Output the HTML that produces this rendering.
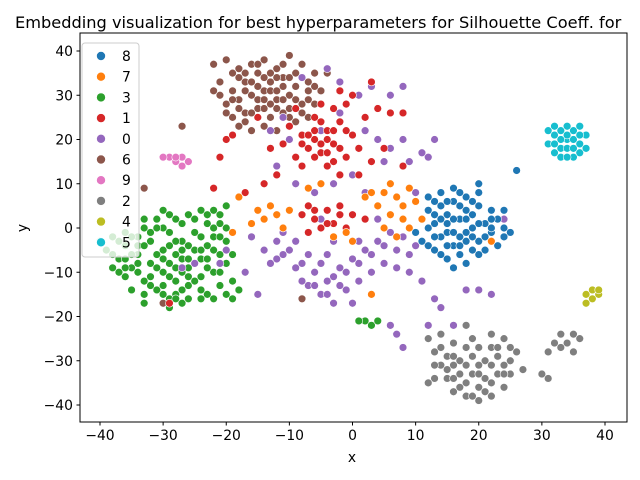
<!DOCTYPE html>
<html><head><meta charset="utf-8"><style>
body{margin:0;background:#fff;}
svg{display:block;font-family:"DejaVu Sans","Liberation Sans",sans-serif;}
</style></head><body>
<svg id="chart" width="640" height="480" xmlns="http://www.w3.org/2000/svg">
<text x="15" y="28" font-size="16.2" fill="#000">Embedding visualization for best hyperparameters for Silhouette Coeff. for</text>
<g id="plot"></g>
<rect x="80" y="33" width="547" height="389" fill="none" stroke="#000" stroke-width="1"/>
<g id="axes"></g>
<text x="352" y="462" font-size="13.9" text-anchor="middle">x</text>
<text x="27" y="228" font-size="13.9" text-anchor="middle" transform="rotate(-90 27 228)">y</text>
<g id="legend"></g>
</svg>
<script>
const xTicks=[-40,-30,-20,-10,0,10,20,30,40];
const yTicks=[-40,-30,-20,-10,0,10,20,30,40];
const labels=["8","7","3","1","0","6","9","2","4","5"];
const colors=["#1f77b4","#ff7f0e","#2ca02c","#d62728","#9467bd","#8c564b","#e377c2","#7f7f7f","#bcbd22","#17becf"];
const pts3=[[-38,-2],[-36,-4],[-34,-6],[-32,-8],[-30,-10],[-28,-12],[-26,-9],[-24,-7],[-22,-5],[-20,-3],[-33,0],[-31,2],[-29,-1],[-27,-3],[-25,-1],[-23,1],[-21,3],[-35,-9],[-37,-7],[-39,-5],[-33,-12],[-31,-14],[-29,-16],[-27,-14],[-25,-12],[-23,-15],[-21,-13],[-19,-16],[-30,-5],[-28,-6],[-26,-4],[-24,-2],[-32,-3],[-34,-2],[-36,-1],[-30,0],[-28,2],[-26,3],[-24,4],[-22,0],[-20,-8],[-22,-10],[-24,-11],[-35,-14],[-33,-15],[-29,-18],[-27,-17],[-31,-6],[-29,-8],[-27,-7],[-25,-5],[-23,-4],[-21,-6],[-38,-9],[-36,-11],[-40,-3],[-18,-14],[-20,5],[-26,-16],[-30,4],[2,-21],[3,-22],[4,-21],[1,-21],[-32,-1],[-34,-4],[-28,-3],[-26,-7],[-30,-13],[-32,-11],[-24,-14],[-22,-2],
[-37,-3],[-35,-6],[-33,-4],[-31,-9],[-29,-11],[-27,-10],[-25,-8],[-23,-9],[-21,-10],[-19,-12],[-34,-10],[-32,-13],[-30,-15],[-28,-15],[-26,-13],[-24,-16],[-22,-16],[-20,-15],[-36,-7],[-38,-6],[-31,0],[-29,3],[-27,1],[-25,2],[-23,3],[-21,1],[-22,4],[-33,2],[-28,-9],[-26,-11],[-30,-7],[-34,-8],[-36,-9],[-24,-5],[-20,0],[-19,-6],[-21,-2],[-23,-7],[-27,-5],[-29,-4],[-35,-2],[-37,-10],[-33,-17],[-28,-16]];
const pts6=[[-20,38],[-18,36],[-16,37],[-14,38],[-12,36],[-10,39],[-8,37],[-6,35],[-21,33],[-19,31],[-17,33],[-15,35],[-13,33],[-11,34],[-9,32],[-7,33],[-5,31],[-20,28],[-18,29],[-16,30],[-14,31],[-12,29],[-10,30],[-8,28],[-6,28],[-19,25],[-17,26],[-15,27],[-13,25],[-11,26],[-9,24],[-7,25],[-16,22],[-14,23],[-12,22],[-18,34],[-22,31],[-11,37],[-13,28],[-15,32],[-17,24],[-10,27],[-27,23],[-33,9],[-30,-17],[-8,-16],[-22,37],[-4,35],
[-19,35],[-17,35],[-15,37],[-13,35],[-11,32],[-9,35],[-7,31],[-21,30],[-19,29],[-17,31],[-15,29],[-13,31],[-11,29],[-9,29],[-7,29],[-18,27],[-16,26],[-14,27],[-12,27],[-10,25],[-16,33],[-14,34],[-12,34],[-20,26],[-18,23],[-8,26],[-6,32],[-10,34],[-12,31],[-14,29]];
const pts1=[[-10,23],[-8,21],[-6,20],[-4,22],[-2,24],[0,21],[-7,18],[-5,17],[-3,19],[-1,16],[1,18],[-9,16],[-11,19],[-4,14],[-2,12],[-6,25],[-3,27],[-1,28],[2,25],[4,27],[6,26],[8,26],[-8,14],[-12,12],[-14,10],[-20,20],[-19,21],[-21,16],[-8,3],[-6,2],[-4,4],[-2,5],[0,3],[-5,0],[-3,1],[-7,-1],[-1,0],[2,2],[-15,25],[-13,18],[3,33],[0,30],[-2,31],[8,14],[-29,-17],[-22,9],[1,12],[3,15],[5,18],[-5,28],[-9,27],[-17,8],
[-6,22],[-4,20],[-2,18],[-5,19],[-3,22],[-7,21],[-1,22],[-6,16],[-4,17],[-8,19],[-5,24],[-3,15],[-6,4],[-4,1],[-2,3],[-7,5]];
const pts0=[[-8,34],[-4,36],[-2,33],[1,30],[3,32],[6,30],[8,32],[-11,25],[-13,22],[-10,20],[-5,22],[-2,26],[2,22],[4,20],[6,18],[8,20],[9,15],[11,17],[12,16],[13,20],[5,15],[-14,10],[-12,14],[-9,10],[-6,8],[-3,10],[0,12],[2,8],[-16,-2],[-14,-5],[-12,-7],[-10,-5],[-8,-8],[-6,-10],[-4,-12],[-2,-9],[0,-7],[2,-5],[4,-3],[6,-1],[8,-2],[10,-4],[-5,-15],[-3,-17],[-7,-13],[-1,-14],[1,-12],[3,-10],[5,-8],[7,-9],[9,-10],[11,-12],[-9,-3],[-11,-1],[-13,-8],[-15,-15],[-17,-10],[-20,-5],[-21,-8],[-25,-8],[-27,-9],[6,-22],[7,-24],[8,-27],[13,-16],[14,-18],[18,-14],[20,-14],[22,-15],[16,-22],[12,-22],[-5,2],[-3,-3],[1,-3],[4,2],[10,8],[13,-2],[-12,-3],[-8,-12],[0,-17],[-4,-6],[24,2],
[-7,-6],[-5,-8],[-3,-11],[-1,-10],[1,-8],[-9,-9],[-11,-6],[3,-6],[5,-4],[7,-5],[9,-6],[-6,-13],[-4,-15],[-2,-13]];
const pts8=[[12,0],[13,3],[14,-2],[15,1],[16,-4],[17,2],[18,-1],[19,3],[20,-3],[21,1],[22,-1],[23,2],[24,0],[14,5],[16,6],[18,7],[20,8],[15,-7],[17,-6],[19,-5],[13,-5],[11,-3],[12,4],[14,8],[16,9],[18,4],[20,5],[22,4],[21,-5],[23,-4],[15,3],[17,-2],[19,0],[13,1],[11,2],[10,-1],[24,4],[25,-1],[18,-8],[16,-9],[20,10],[12,7],[26,13],[15,-1],[17,5],[19,-2],
[13,-2],[14,2],[16,2],[18,2],[20,1],[22,2],[21,-2],[17,-4],[15,-4],[14,-6],[16,-1],[18,-3],[20,-6],[22,0],[19,6],[17,8],[15,6],[13,6],[12,-4],[24,-2]];
const pts7=[[4,5],[5,8],[6,10],[7,7],[8,5],[9,9],[10,6],[8,2],[6,3],[5,0],[7,-2],[9,0],[-15,4],[-14,2],[-13,5],[-12,3],[-11,0],[-10,4],[-16,1],[-18,7],[-19,-1],[-3,-2],[-1,-1],[0,-3],[-5,10],[-7,9],[3,-15],[22,-3],[2,7],[3,8],[11,2]];
const pts9=[[-29,16],[-28,15],[-27,16],[-26,15],[-27,14],[-30,16],[-28,16]];
const pts2=[[12,-25],[13,-28],[14,-31],[15,-34],[16,-37],[17,-30],[18,-27],[19,-33],[20,-36],[21,-30],[22,-27],[23,-33],[24,-36],[25,-30],[26,-28],[14,-24],[16,-26],[18,-38],[20,-39],[22,-38],[17,-33],[15,-29],[19,-29],[21,-34],[23,-29],[25,-33],[13,-34],[16,-31],[20,-31],[22,-24],[24,-25],[18,-22],[30,-33],[31,-34],[31,-28],[32,-26],[33,-24],[35,-24],[34,-26],[36,-25],[33,-27],[35,-28],[12,-35],[27,-32],
[14,-27],[16,-29],[18,-31],[18,-35],[20,-33],[22,-31],[24,-31],[22,-35],[17,-36],[19,-38],[21,-37],[15,-32],[20,-27],[23,-27],[25,-27],[13,-31],[16,-34],[24,-33],[19,-25]];
const pts4=[[37,-15],[38,-14],[39,-15],[38,-16],[37,-17],[39,-14]];
const pts5=[[31,19],[32,21],[33,18],[34,20],[35,22],[36,19],[37,21],[33,16],[35,16],[32,17],[34,23],[36,23],[31,22],[34,18],[36,17],[33,20],[35,20],[32,19],[37,18],[34,16],[36,21],[33,22],[35,18],[32,23],[34,21]];

const NS="http://www.w3.org/2000/svg";
function xs(v){return 352.5+v*6.3125;}
function ys(v){return 228-v*4.425;}
const plot=document.getElementById('plot');
const series=[[pts6,5],[pts3,2],[pts0,4],[pts1,3],[pts8,0],[pts7,1],[pts9,6],[pts2,7],[pts4,8],[pts5,9]];
series.forEach(([arr,ci])=>{
  arr.forEach(p=>{
    const c=document.createElementNS(NS,'circle');
    c.setAttribute('cx',xs(p[0]));c.setAttribute('cy',ys(p[1]));c.setAttribute('r',3.9);
    c.setAttribute('fill',colors[ci]);c.setAttribute('stroke','#fff');c.setAttribute('stroke-width','0.6');
    
    
    plot.appendChild(c);
  });
});
const axes=document.getElementById('axes');
xTicks.forEach(t=>{
  const l=document.createElementNS(NS,'line');
  l.setAttribute('x1',xs(t));l.setAttribute('x2',xs(t));l.setAttribute('y1',422);l.setAttribute('y2',425.5);l.setAttribute('stroke','#000');
  
  
  axes.appendChild(l);
  const tx=document.createElementNS(NS,'text');
  tx.setAttribute('x',xs(t));tx.setAttribute('y',440);tx.setAttribute('font-size','13.9');tx.setAttribute('text-anchor','middle');
  tx.textContent=t<0?'\u2212'+(-t):String(t);
  
  
  axes.appendChild(tx);
});
yTicks.forEach(t=>{
  const l=document.createElementNS(NS,'line');
  l.setAttribute('x1',76.5);l.setAttribute('x2',80);l.setAttribute('y1',ys(t));l.setAttribute('y2',ys(t));l.setAttribute('stroke','#000');
  
  
  axes.appendChild(l);
  const tx=document.createElementNS(NS,'text');
  tx.setAttribute('x',73);tx.setAttribute('y',ys(t)+5);tx.setAttribute('font-size','13.9');tx.setAttribute('text-anchor','end');
  tx.textContent=t<0?'\u2212'+(-t):String(t);
  
  
  axes.appendChild(tx);
});
const lg=document.getElementById('legend');
const box=document.createElementNS(NS,'rect');
box.setAttribute('x',82);box.setAttribute('y',43);box.setAttribute('width',57);box.setAttribute('height',214);box.setAttribute('rx',3);
box.setAttribute('fill','rgba(255,255,255,0.8)');box.setAttribute('stroke','#ccc');


lg.appendChild(box);
labels.forEach((lab,i)=>{
  const y=56+i*20.7;
  const c=document.createElementNS(NS,'circle');
  c.setAttribute('cx',101);c.setAttribute('cy',y);c.setAttribute('r',4.5);c.setAttribute('fill',colors[i]);c.setAttribute('stroke','#fff');c.setAttribute('stroke-width','0.6');
  
  
  lg.appendChild(c);
  const t=document.createElementNS(NS,'text');
  t.setAttribute('x',122);t.setAttribute('y',y+5);t.setAttribute('font-size','13.9');t.textContent=lab;
  
  
  lg.appendChild(t);
});
</script>
</body></html>
